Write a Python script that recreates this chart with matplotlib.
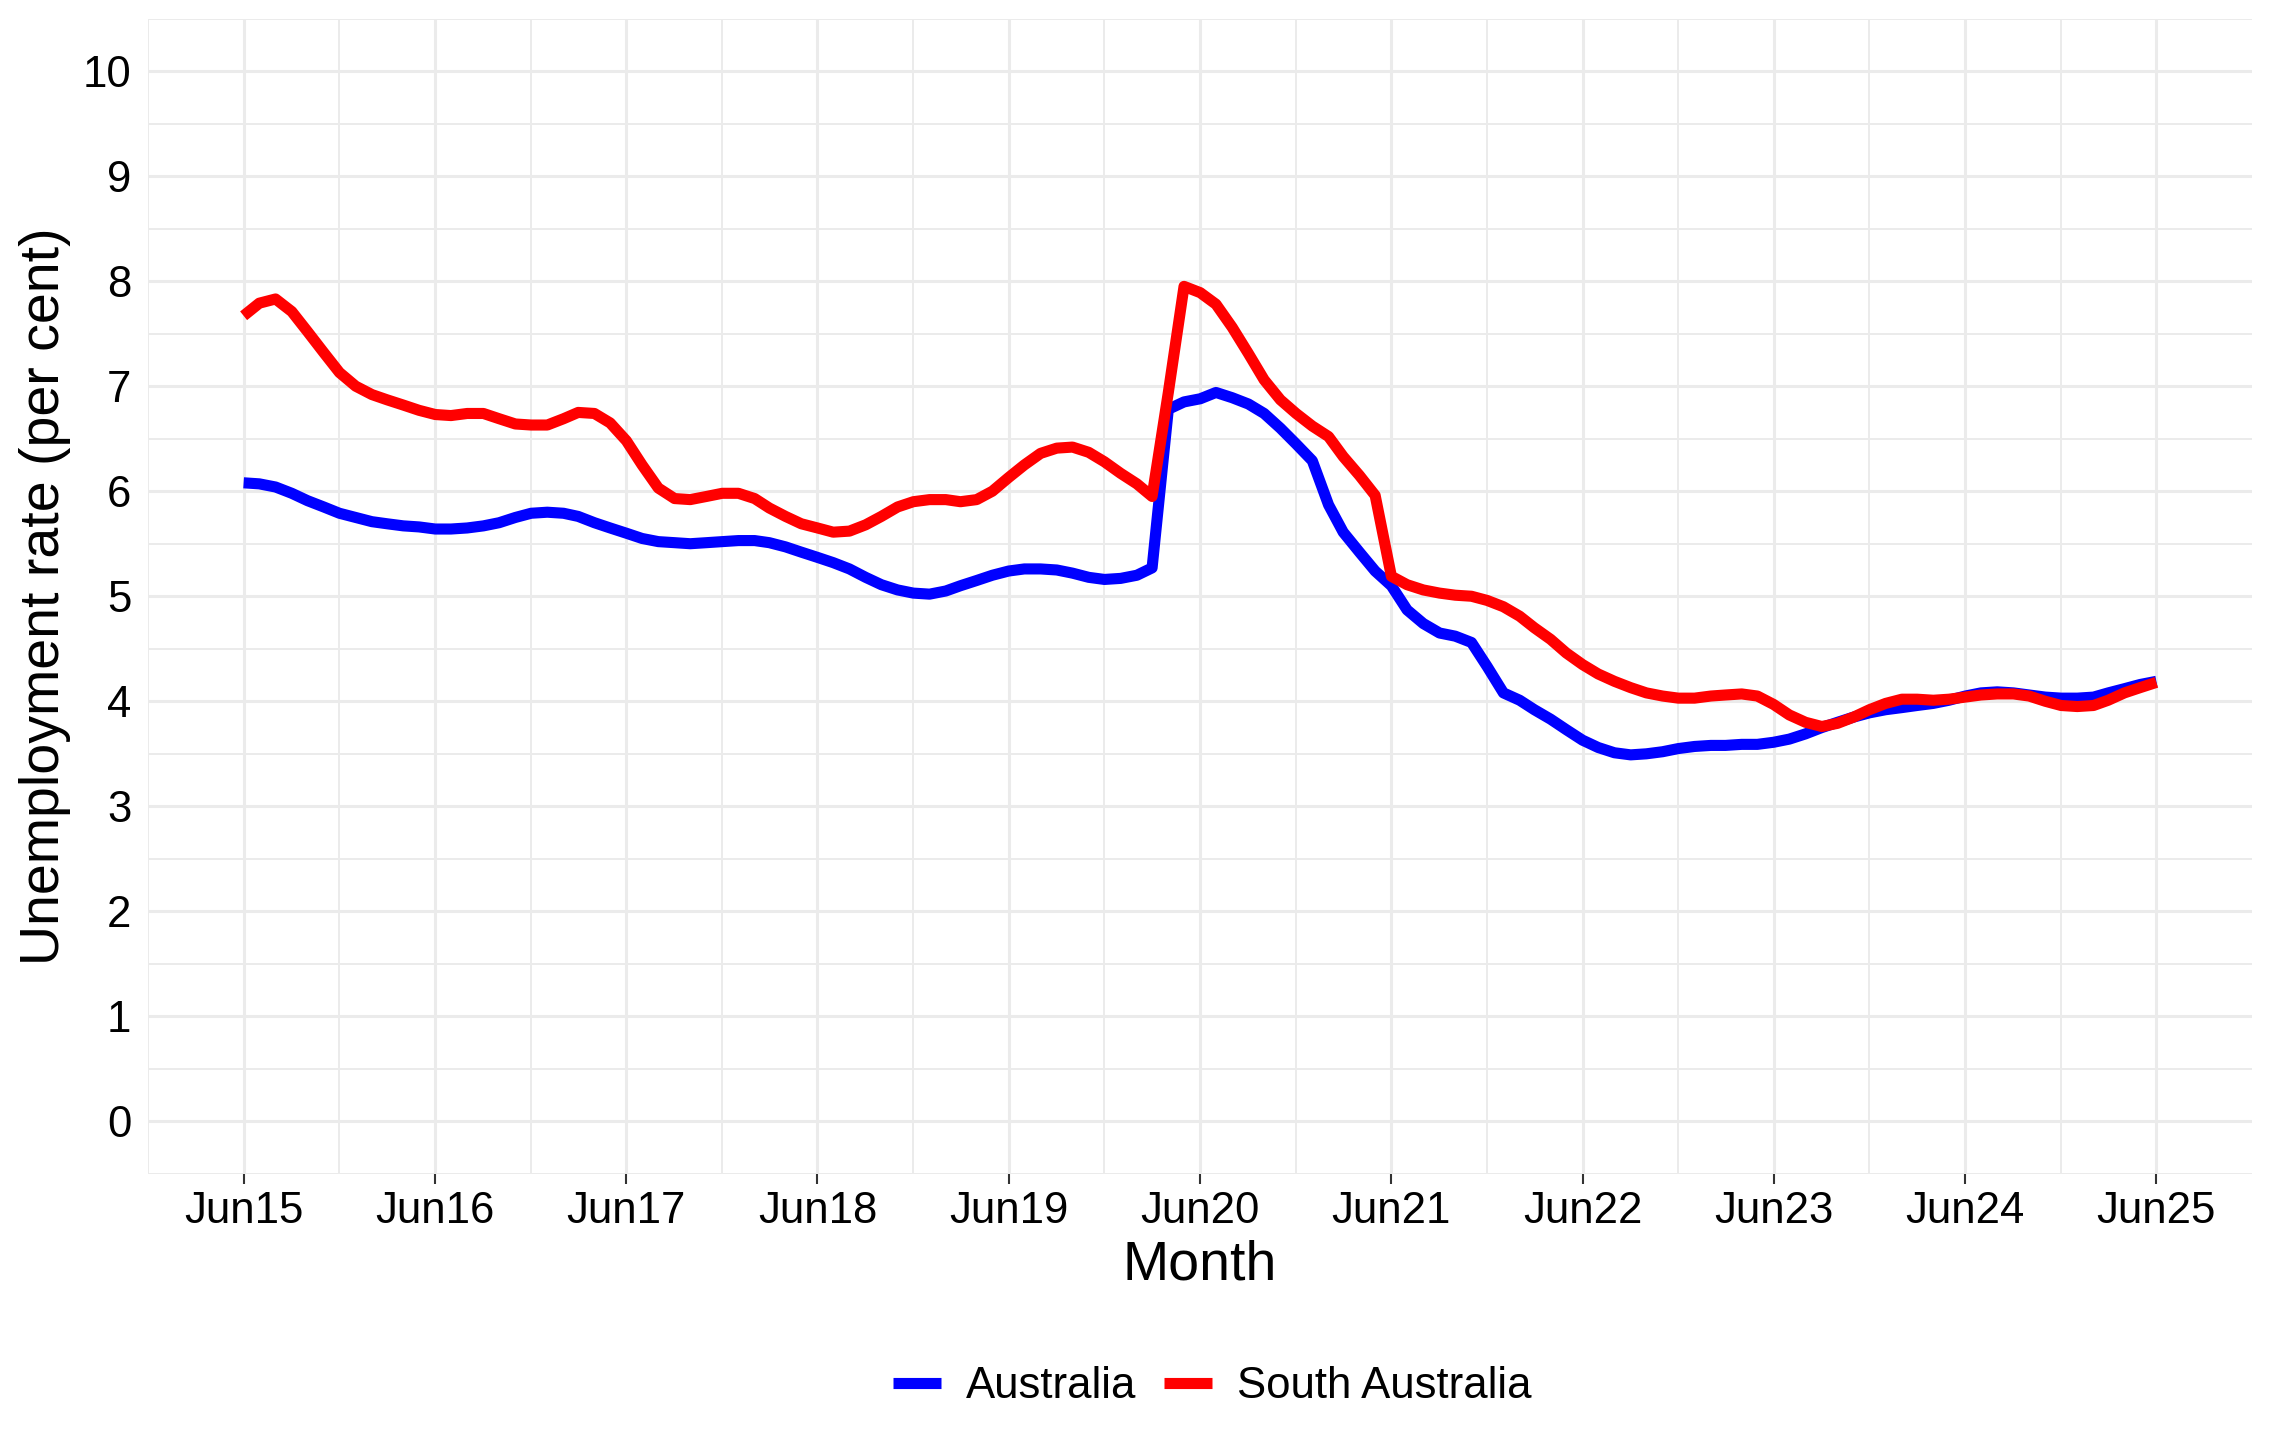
import matplotlib
matplotlib.use("Agg")
import matplotlib.pyplot as plt
import matplotlib.dates as mdates
from matplotlib.lines import Line2D
import pandas as pd
import numpy as np

plt.rcParams['font.family'] = ['Liberation Sans', 'DejaVu Sans']

# monthly, Jun 2015 .. Jun 2025
months = pd.date_range("2015-06-01", "2025-06-01", freq="MS")

australia = [
    6.08, 6.07, 6.04, 5.98, 5.91, 5.85, 5.79,
    5.75, 5.71, 5.69, 5.67, 5.66, 5.64, 5.64, 5.65, 5.67, 5.70, 5.75, 5.79,
    5.80, 5.79, 5.76, 5.70, 5.65, 5.60, 5.55, 5.52, 5.51, 5.50, 5.51, 5.52,
    5.53, 5.53, 5.51, 5.47, 5.42, 5.37, 5.32, 5.26, 5.18, 5.11, 5.06, 5.03,
    5.02, 5.05, 5.10, 5.15, 5.20, 5.24, 5.26, 5.26, 5.25, 5.22, 5.18, 5.16,
    5.17, 5.20, 5.27, 6.78, 6.85, 6.88, 6.94, 6.89, 6.83, 6.74, 6.60, 6.45,
    6.29, 5.87, 5.61, 5.42, 5.24, 5.10, 4.87, 4.74, 4.65, 4.62, 4.56, 4.33,
    4.08, 4.01, 3.92, 3.83, 3.73, 3.63, 3.56, 3.51, 3.49, 3.50, 3.52, 3.55,
    3.57, 3.58, 3.58, 3.59, 3.59, 3.61, 3.64, 3.69, 3.75, 3.80, 3.85, 3.89,
    3.92, 3.94, 3.96, 3.98, 4.01, 4.05, 4.08, 4.09, 4.08, 4.06, 4.04, 4.03,
    4.03, 4.04, 4.08, 4.12, 4.16, 4.19,
]

south_australia = [
    7.67, 7.79, 7.83, 7.71, 7.52, 7.32, 7.13,
    7.00, 6.92, 6.87, 6.82, 6.77, 6.73, 6.72, 6.74, 6.74, 6.69, 6.64, 6.63,
    6.63, 6.69, 6.75, 6.74, 6.65, 6.48, 6.25, 6.03, 5.93, 5.92, 5.95, 5.98,
    5.98, 5.93, 5.84, 5.76, 5.69, 5.65, 5.61, 5.62, 5.68, 5.76, 5.85, 5.90,
    5.92, 5.92, 5.90, 5.92, 6.00, 6.13, 6.25, 6.36, 6.41, 6.42, 6.37, 6.28,
    6.17, 6.07, 5.95, 6.94, 7.95, 7.89, 7.78, 7.56, 7.31, 7.06, 6.87, 6.74,
    6.62, 6.52, 6.33, 6.15, 5.96, 5.19, 5.11, 5.06, 5.03, 5.01, 5.00, 4.96,
    4.90, 4.81, 4.70, 4.59, 4.46, 4.35, 4.26, 4.19, 4.13, 4.08, 4.05, 4.03,
    4.03, 4.05, 4.06, 4.07, 4.05, 3.97, 3.87, 3.80, 3.76, 3.79, 3.85, 3.92,
    3.98, 4.02, 4.02, 4.01, 4.02, 4.04, 4.06, 4.07, 4.07, 4.05, 4.00, 3.96,
    3.95, 3.96, 4.01, 4.08, 4.13, 4.18,
]

series_names = ["Australia", "South Australia"]
series_colors = ["#0000FF", "#FF0000"]

W, H = 2272, 1452
fig = plt.figure(figsize=(W / 100, H / 100), dpi=100)
ax = fig.add_axes([148 / W, 1 - 1174 / H, (2252 - 148) / W, (1174 - 18.5) / H])

lw = 8
for vals, name, col in zip([australia, south_australia], series_names, series_colors):
    ax.plot(months, vals, color=col, lw=lw, label=name,
            solid_capstyle="butt", solid_joinstyle="round", zorder=3)

half = pd.Timedelta(days=182.6)
ax.set_xlim(months[0] - half, months[-1] + half)
ax.set_ylim(-0.5, 10.5)

ax.xaxis.set_major_locator(mdates.MonthLocator(bymonth=6))
ax.xaxis.set_major_formatter(mdates.DateFormatter("%b%y"))
ax.xaxis.set_minor_locator(mdates.MonthLocator(bymonth=12))
ax.set_yticks(range(0, 11))
ax.set_yticks(np.arange(-0.5, 10.6, 1.0), minor=True)

ax.grid(which="major", color="#EBEBEB", lw=2.2, zorder=0)
ax.grid(which="minor", color="#EBEBEB", lw=1.4, zorder=0)
ax.set_axisbelow(True)
for s in ax.spines.values():
    s.set_visible(False)

ax.tick_params(axis="x", which="major", length=7, width=1.5, color="#333333",
               labelsize=31.5, pad=5.5, labelcolor="black")
ax.tick_params(axis="x", which="minor", length=0)
ax.tick_params(axis="y", which="both", length=0, labelsize=31.5, pad=12,
               labelcolor="black")

fig.text(1200 / W, 1 - 1266 / H, "Month", ha="center", va="center", fontsize=40)
fig.text(45 / W, 1 - 596 / H, "Unemployment rate (per cent)", rotation=90,
         ha="center", va="center", fontsize=40)

handles = [Line2D([0], [0], color=c, lw=lw, solid_capstyle="butt") for c in series_colors]
fig.legend(handles, series_names, loc="center", bbox_to_anchor=(1212 / W, 1 - 1387 / H),
           ncol=2, frameon=False, fontsize=31.5, handlelength=1.1,
           handletextpad=0.57, columnspacing=0.64, borderaxespad=0)

fig.savefig("out.png", dpi=100, facecolor="white")
